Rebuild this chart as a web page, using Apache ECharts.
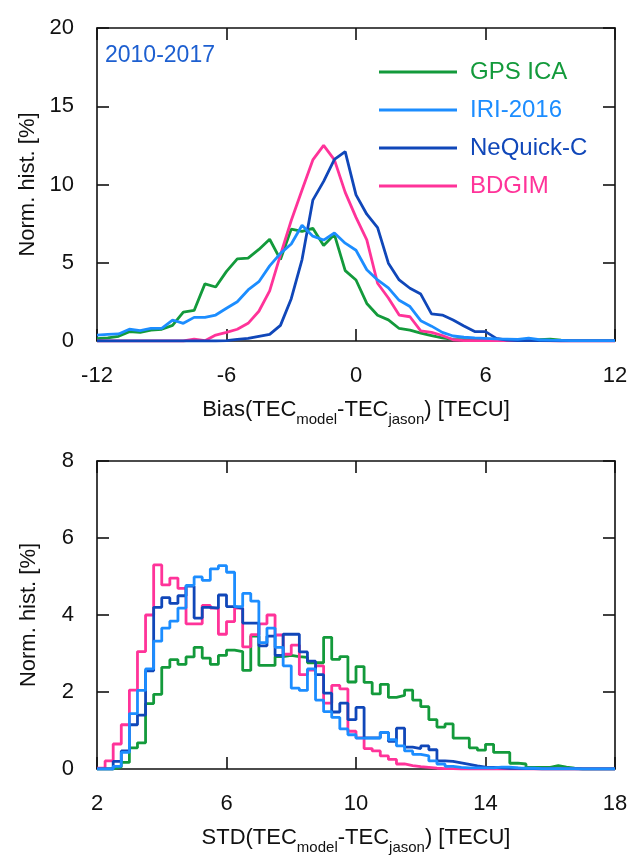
<!DOCTYPE html>
<html>
<head>
<meta charset="utf-8">
<script src="https://cdn.jsdelivr.net/npm/echarts@6/dist/echarts.min.js"></script>
<style>
  html, body { margin: 0; padding: 0; background: #fff; }
  #chart { width: 632px; height: 856px; }
</style>
</head>
<body>
<div id="chart"></div>
<script>
// top panel: bias histograms, 0.5 TECU bins from -12 to 12
const biasStart = -12
const biasStep = 0.5
const gpsBias = [0.15, 0.2, 0.3, 0.6, 0.55, 0.7, 0.75, 1.0, 1.85, 1.95, 3.65, 3.45, 4.45, 5.25, 5.3, 5.85, 6.5, 5.2, 7.15, 7.0, 7.2, 6.1, 6.8, 4.5, 3.9, 2.4, 1.65, 1.35, 0.8, 0.7, 0.5, 0.35, 0.2, 0.1, 0.08, 0.05, 0.04, 0.03, 0.04, 0.05, 0.06, 0.08, 0.12, 0.06, 0.03, 0.02, 0.02, 0.03, 0.02]
const iriBias = [0.38, 0.42, 0.45, 0.75, 0.66, 0.81, 0.81, 1.34, 1.13, 1.51, 1.51, 1.66, 2.09, 2.51, 3.26, 3.79, 4.8, 5.6, 6.2, 7.4, 6.7, 6.45, 6.9, 6.25, 5.8, 4.55, 3.9, 3.4, 2.6, 2.2, 1.3, 0.95, 0.55, 0.32, 0.24, 0.2, 0.17, 0.13, 0.12, 0.1, 0.18, 0.08, 0.05, 0.04, 0.03, 0.03, 0.03, 0.03, 0.03]
const nequickBias = [0, 0, 0, 0, 0, 0, 0, 0, 0, 0, 0, 0, 0.02, 0.1, 0.17, 0.3, 0.42, 1.0, 2.7, 5.2, 9.0, 10.2, 11.6, 12.1, 9.34, 8.1, 7.25, 4.97, 3.9, 3.37, 3.0, 1.73, 1.66, 1.34, 0.96, 0.6, 0.6, 0.17, 0.05, 0.03, 0.02, 0.02, 0.02, 0.01, 0.01, 0.01, 0.01, 0.01, 0.01]
const bdgimBias = [0, 0, 0, 0, 0, 0, 0, 0, 0, 0.12, 0.02, 0.38, 0.55, 0.75, 1.13, 1.9, 3.2, 5.5, 7.7, 9.65, 11.57, 12.5, 11.57, 9.5, 7.9, 6.46, 3.69, 2.75, 1.66, 1.55, 0.65, 0.55, 0.35, 0.08, 0.03, 0.02, 0.02, 0.02, 0.02, 0.02, 0.08, 0.02, 0.01, 0, 0, 0, 0, 0, 0]

// bottom panel: STD histograms, 0.25 TECU bins from 2 to 18
const stdStart = 2
const stdStep = 0.25
const gpsStd = [0, 0, 0.05, 0.17, 0.55, 0.68, 1.7, 1.94, 2.64, 2.84, 2.72, 2.91, 3.16, 2.88, 2.72, 2.95, 3.09, 3.05, 2.56, 3.45, 2.69, 2.69, 2.92, 2.95, 2.92, 2.9, 2.76, 2.76, 3.42, 2.85, 2.92, 2.26, 2.66, 2.25, 1.95, 2.2, 1.86, 1.91, 2.05, 1.79, 1.62, 1.28, 1.09, 1.17, 0.8, 0.8, 0.55, 0.49, 0.64, 0.43, 0.43, 0.15, 0.13, 0.04, 0.04, 0.04, 0.09, 0.05, 0.02, 0, 0, 0, 0, 0]
const iriStd = [0, 0, 0.07, 0.43, 1.44, 2.04, 2.6, 3.32, 3.66, 3.84, 4.18, 4.77, 4.99, 4.9, 5.2, 5.28, 5.11, 4.22, 4.56, 4.36, 3.28, 3.66, 3.16, 2.68, 2.1, 2.04, 2.6, 1.79, 1.49, 1.34, 1.04, 0.89, 0.8, 0.8, 0.8, 0.95, 0.76, 0.6, 0.47, 0.38, 0.34, 0.21, 0.13, 0.07, 0.04, 0.03, 0.03, 0.03, 0.03, 0.05, 0.05, 0.03, 0.02, 0.02, 0.01, 0.01, 0.01, 0.01, 0.01, 0, 0, 0, 0, 0]
const nequickStd = [0, 0, 0.2, 0.47, 1.15, 1.4, 2.55, 4.2, 4.45, 4.3, 4.5, 4.75, 3.92, 4.2, 4.18, 4.52, 4.22, 4.17, 3.79, 3.79, 3.2, 3.45, 2.95, 3.5, 3.5, 3.04, 2.8, 2.45, 1.97, 1.48, 1.71, 1.28, 1.6, 0.81, 0.81, 0.95, 0.72, 1.06, 0.57, 0.53, 0.6, 0.5, 0.21, 0.2, 0.16, 0.12, 0.08, 0.05, 0.04, 0.03, 0.02, 0.02, 0.01, 0.01, 0, 0, 0, 0, 0, 0, 0, 0, 0, 0]
const bdgimStd = [0.02, 0.21, 0.65, 1.15, 2.05, 3.05, 4.0, 5.3, 4.78, 4.96, 4.69, 3.77, 3.77, 4.25, 4.18, 3.5, 3.83, 4.18, 3.17, 3.49, 3.77, 4.0, 3.48, 2.98, 3.22, 2.45, 2.57, 2.68, 1.71, 2.17, 2.08, 0.98, 0.81, 0.53, 0.47, 0.34, 0.25, 0.13, 0.09, 0.06, 0.04, 0.02, 0.01, 0.01, 0, 0, 0, 0, 0, 0, 0, 0, 0, 0, 0, 0, 0, 0, 0, 0, 0, 0, 0, 0]

const names = ['GPS ICA', 'IRI-2016', 'NeQuick-C', 'BDGIM']
const colors = ['#139a3b', '#1c8dff', '#1047b9', '#ff3399']

const font = 'Liberation Sans, Arial, sans-serif'

const biasData = vals => vals.map((v, i) => [biasStart + i * biasStep, v])
// step histogram: one point per left bin edge plus the closing right edge
const stdData = vals => {
  const pts = vals.map((v, i) => [stdStart + i * stdStep, v])
  pts.push([stdStart + vals.length * stdStep, vals[vals.length - 1]])
  return pts
}

const axisLine = { show: true, onZero: false, lineStyle: { color: '#111', width: 1.6 } }
const tick = { show: true, inside: true, length: 12, lineStyle: { color: '#111', width: 1.6 } }
const label = { color: '#111', fontSize: 22, fontFamily: font }

function xAxes(grid, min, max, interval, name) {
  return [
    {
      gridIndex: grid, type: 'value', position: 'bottom', min, max, interval,
      axisLine, axisTick: tick, splitLine: { show: false },
      axisLabel: { ...label, margin: 24 },
      name, nameLocation: 'middle', nameGap: 52,
      nameTextStyle: {
        fontFamily: font, color: '#111',
        rich: {
          a: { fontSize: 22, fontFamily: font, color: '#111', lineHeight: 34, verticalAlign: 'middle' },
          s: { fontSize: 15, fontFamily: font, color: '#111', lineHeight: 34, verticalAlign: 'bottom' }
        }
      }
    },
    {
      gridIndex: grid, type: 'value', position: 'top', min, max, interval,
      axisLine, axisTick: tick, axisLabel: { show: false }, splitLine: { show: false }
    }
  ]
}

function yAxes(grid, max, interval) {
  return [
    {
      gridIndex: grid, type: 'value', position: 'left', min: 0, max, interval,
      axisLine, axisTick: tick, splitLine: { show: false },
      axisLabel: { ...label, margin: 23 },
      name: 'Norm. hist. [%]', nameLocation: 'middle', nameGap: 57,
      nameTextStyle: { fontSize: 22, fontFamily: font, color: '#111' }
    },
    {
      gridIndex: grid, type: 'value', position: 'right', min: 0, max, interval,
      axisLine, axisTick: tick, axisLabel: { show: false }, splitLine: { show: false }
    }
  ]
}

const topSeries = [gpsBias, iriBias, nequickBias, bdgimBias]
const bottomSeries = [gpsStd, iriStd, nequickStd, bdgimStd]
// draw order: green, pink, dark blue, light blue
const order = [0, 3, 2, 1]

const series = []
order.forEach(k => {
  series.push({
    name: names[k], type: 'line', xAxisIndex: 0, yAxisIndex: 0,
    data: biasData(topSeries[k]), symbol: 'none', silent: true,
    lineStyle: { color: colors[k], width: 2.8 }, itemStyle: { color: colors[k] }
  })
})
order.forEach(k => {
  series.push({
    name: names[k], type: 'line', xAxisIndex: 2, yAxisIndex: 2, step: 'end',
    data: stdData(bottomSeries[k]), symbol: 'none', silent: true,
    lineStyle: { color: colors[k], width: 2.8 }, itemStyle: { color: colors[k] }
  })
})

const chart = echarts.init(document.getElementById('chart'))
chart.setOption({
  backgroundColor: '#fff',
  animation: false,
  title: {
    text: '2010-2017', left: 100, top: 39,
    textStyle: { color: '#1d5fd0', fontSize: 23, fontWeight: 'normal', fontFamily: font }
  },
  legend: {
    orient: 'vertical', left: 374, top: 55, itemWidth: 78, itemHeight: 3, itemGap: 14,
    selectedMode: false, icon: 'rect',
    textStyle: { fontSize: 24, fontFamily: font, lineHeight: 24, padding: [0, 0, 0, 8] },
    data: names.map((n, k) => ({ name: n, itemStyle: { color: colors[k] }, textStyle: { color: colors[k] } }))
  },
  grid: [
    { left: 97, right: 17, top: 28, height: 313 },
    { left: 97, right: 17, top: 461, height: 312 }
  ],
  xAxis: [
    ...xAxes(0, -12, 12, 6, '{a|Bias(TEC}{s|model}{a|-TEC}{s|jason}{a|) [TECU]}'),
    ...xAxes(1, 2, 18, 4, '{a|STD(TEC}{s|model}{a|-TEC}{s|jason}{a|) [TECU]}')
  ],
  yAxis: [...yAxes(0, 20, 5), ...yAxes(1, 8, 2)],
  series
})
</script>
</body>
</html>
